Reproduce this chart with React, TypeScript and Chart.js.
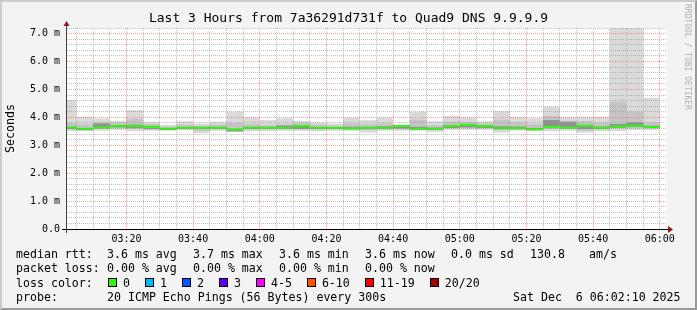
import React, { useEffect, useRef } from 'react';
import { Chart, registerables } from 'chart.js';

Chart.register(...registerables);

// ---- data ----
const binStart = ['03:00','03:05','03:10','03:15','03:20','03:25','03:30','03:35','03:40','03:45','03:50','03:55','04:00','04:05','04:10','04:15','04:20','04:25','04:30','04:35','04:40','04:45','04:50','04:55','05:00','05:05','05:10','05:15','05:20','05:25','05:30','05:35','05:40','05:45','05:50','05:55'];
const smokeMax = [4.62,4.02,3.96,3.87,4.26,3.83,3.73,3.86,3.78,3.84,4.20,4.00,3.90,3.97,3.87,3.82,3.78,3.98,3.90,3.99,3.73,4.20,3.86,4.05,4.00,3.86,4.22,4.01,3.97,4.38,4.01,4.01,4.02,7.20,7.20,4.70];
const smokeMin = [3.50,3.52,3.52,3.55,3.50,3.52,3.52,3.55,3.43,3.52,3.47,3.50,3.50,3.52,3.52,3.50,3.52,3.52,3.45,3.52,3.52,3.52,3.48,3.55,3.55,3.55,3.45,3.52,3.50,3.50,3.52,3.45,3.50,3.50,3.55,3.55];
const midLow = [3.56,3.54,3.58,3.60,3.58,3.56,3.55,3.57,3.52,3.56,3.50,3.56,3.56,3.57,3.57,3.56,3.56,3.56,3.54,3.56,3.57,3.55,3.54,3.60,3.62,3.60,3.54,3.56,3.54,3.58,3.58,3.52,3.56,3.60,3.62,3.60];
const midHigh = [3.80,3.75,3.82,3.80,3.95,3.76,3.66,3.74,3.70,3.74,3.80,3.76,3.72,3.76,3.80,3.74,3.70,3.78,3.75,3.78,3.72,3.92,3.72,3.84,3.84,3.78,3.92,3.82,3.76,4.05,3.88,3.86,3.80,4.56,4.20,3.82];
const innerLow = [3.58,3.54,3.66,3.64,3.62,3.58,3.56,3.59,3.58,3.59,3.50,3.59,3.59,3.60,3.58,3.59,3.59,3.58,3.58,3.59,3.60,3.57,3.56,3.62,3.64,3.62,3.58,3.58,3.56,3.66,3.66,3.58,3.59,3.63,3.66,3.62];
const innerHigh = [3.66,3.58,3.78,3.72,3.74,3.63,3.62,3.66,3.66,3.66,3.56,3.66,3.66,3.70,3.66,3.66,3.65,3.66,3.66,3.68,3.66,3.66,3.63,3.68,3.72,3.70,3.68,3.67,3.62,3.90,3.84,3.68,3.67,3.76,3.82,3.70];
const medianRtt = [3.63,3.59,3.63,3.69,3.69,3.66,3.59,3.62,3.62,3.62,3.56,3.62,3.62,3.62,3.69,3.62,3.62,3.60,3.62,3.62,3.69,3.59,3.59,3.69,3.73,3.69,3.61,3.61,3.57,3.66,3.62,3.70,3.62,3.67,3.70,3.65];

const xTickLabels = ['03:20','03:40','04:00','04:20','04:40','05:00','05:20','05:40','06:00'];
const yTickLabels = ['0.0','1.0 m','2.0 m','3.0 m','4.0 m','5.0 m','6.0 m','7.0 m'];

const titleText = 'Last 3 Hours from 7a36291d731f to Quad9 DNS 9.9.9.9';
const rttStats = ['3.6 ms avg','3.7 ms max','3.6 ms min','3.6 ms now','0.0 ms sd','130.8','am/s'];
const lossStats = ['0.00 % avg','0.00 % max','0.00 % min','0.00 % now'];
const lossLabels = ['0','1','2','3','4-5','6-10','11-19','20/20'];
const lossColors = ['#26ff00','#00b8ff','#0059ff','#5e00ff','#ff00ff','#ff5500','#ff0000','#a10000'];
const probeText = '20 ICMP Echo Pings (56 Bytes) every 300s';
const stampText = 'Sat Dec  6 06:02:10 2025';

// ---- helpers ----
const toMin = (t: string) => { const [h, m] = t.split(':').map(Number); return h * 60 + m; };
const BIN = 5;
const X_MAX = toMin('06:02') + 10 / 60;
const X_MIN = X_MAX - 180;
const Y_MAX = 7.2;
const MEDIAN_HALF = 0.036;
const MONO = '"DejaVu Sans Mono", monospace';

const centers = binStart.map((t) => toMin(t) + BIN / 2);
const floating = (lo: number[], hi: number[]) => centers.map((x, i) => ({ x, y: [lo[i], hi[i]] }));

const fmtTime = (v: number) => {
  const h = Math.floor(v / 60); const m = Math.round(v - h * 60);
  return `${String(h).padStart(2, '0')}:${String(m).padStart(2, '0')}`;
};

const plotDecor = {
  id: 'plotDecor',
  beforeDraw(chart: any) {
    const { ctx, chartArea: a } = chart;
    ctx.save();
    ctx.fillStyle = '#ffffff';
    ctx.fillRect(a.left, a.top, a.right - a.left, a.bottom - a.top);
    ctx.restore();
  },
  afterDraw(chart: any) {
    const { ctx, chartArea: a } = chart;
    ctx.save();
    ctx.lineWidth = 1;
    ctx.strokeStyle = '#000000';
    ctx.beginPath();
    ctx.moveTo(a.left - 5, a.bottom + 0.5);
    ctx.lineTo(a.right + 2, a.bottom + 0.5);
    ctx.stroke();
    ctx.strokeStyle = '#404040';
    ctx.beginPath();
    ctx.moveTo(a.left - 0.5, a.bottom + 4);
    ctx.lineTo(a.left - 0.5, a.top - 2);
    ctx.stroke();
    ctx.fillStyle = '#991111';
    ctx.beginPath();
    ctx.moveTo(a.right + 1, a.bottom - 3);
    ctx.lineTo(a.right + 6, a.bottom + 0.5);
    ctx.lineTo(a.right + 1, a.bottom + 4);
    ctx.closePath();
    ctx.fill();
    ctx.beginPath();
    ctx.moveTo(a.left - 3.5, a.top - 2);
    ctx.lineTo(a.left - 0.5, a.top - 7);
    ctx.lineTo(a.left + 2.5, a.top - 2);
    ctx.closePath();
    ctx.fill();
    ctx.restore();
  },
};

const MINOR = 'rgba(150,150,150,0.6)';
const MAJOR = 'rgba(255,90,90,0.6)';

export default function App() {
  const ref = useRef<HTMLCanvasElement>(null);

  useEffect(() => {
    const prev = document.body.style.margin;
    document.body.style.margin = '0';
    const common = { grouped: false, barPercentage: 1, categoryPercentage: 1, borderWidth: 0, inflateAmount: 0 };
    const chart = new Chart(ref.current as HTMLCanvasElement, {
      type: 'bar',
      data: {
        datasets: [
          { ...common, label: 'median rtt', data: centers.map((x, i) => ({ x, y: [medianRtt[i] - MEDIAN_HALF, medianRtt[i] + MEDIAN_HALF] })), backgroundColor: '#26ff00' },
          { ...common, label: 'smoke inner', data: floating(innerLow, innerHigh), backgroundColor: '#909090' },
          { ...common, label: 'smoke mid', data: floating(midLow, midHigh), backgroundColor: '#c4c4c4' },
          { ...common, label: 'smoke outer', data: floating(smokeMin, smokeMax), backgroundColor: '#dadada' },
        ] as any,
      },
      options: {
        animation: false,
        responsive: false,
        maintainAspectRatio: false,
        layout: { padding: { left: 0, right: 0, top: 0, bottom: 61 } },
        plugins: {
          legend: { display: false },
          tooltip: { enabled: false },
          title: {
            display: true,
            text: titleText,
            color: '#000',
            font: { family: MONO, size: 13, weight: 'normal', lineHeight: 1.2 },
            padding: { top: 11, bottom: 1.4 },
          },
        },
        scales: {
          x: {
            type: 'linear',
            min: X_MIN,
            max: X_MAX,
            offset: false,
            afterBuildTicks: (s: any) => {
              const t: any[] = [];
              for (let v = Math.ceil(X_MIN / BIN) * BIN; v <= X_MAX; v += BIN) t.push({ value: v });
              s.ticks = t;
            },
            afterFit: (s: any) => { s.height = 20; },
            grid: {
              offset: false,
              drawTicks: false,
              z: 1,
              color: (c: any) => (c.tick && c.tick.value % 20 === 0 ? MAJOR : MINOR),
            },
            border: { display: false, dash: [1, 1] },
            ticks: {
              autoSkip: false,
              maxRotation: 0,
              padding: 4,
              color: '#000',
              font: { family: MONO, size: 10 },
              callback: (v: any) => { const s = fmtTime(Number(v)); return xTickLabels.includes(s) ? s : ''; },
            },
          },
          y: {
            type: 'linear',
            min: 0,
            max: Y_MAX,
            afterBuildTicks: (s: any) => {
              const t: any[] = [];
              for (let i = 0; i <= Math.round(Y_MAX * 5); i++) t.push({ value: i / 5 });
              s.ticks = t;
            },
            afterFit: (s: any) => { s.width = 67; },
            grid: {
              drawTicks: false,
              z: 1,
              color: (c: any) => {
                const v = c.tick ? c.tick.value : 0;
                return Math.abs(v - Math.round(v)) < 1e-6 ? MAJOR : MINOR;
              },
            },
            border: { display: false, dash: [1, 1] },
            title: {
              display: true,
              text: 'Seconds',
              color: '#000',
              font: { family: MONO, size: 11.6, lineHeight: 1.2 },
              padding: { top: 4, bottom: 0 },
            },
            ticks: {
              autoSkip: false,
              padding: 7,
              color: '#000',
              font: { family: MONO, size: 10 },
              callback: (v: any) => {
                const n = Number(v);
                const i = Math.round(n);
                return Math.abs(n - i) < 1e-6 ? yTickLabels[i] : '';
              },
            },
          },
          yRight: {
            type: 'linear',
            position: 'right',
            min: 0,
            max: Y_MAX,
            afterFit: (s: any) => { s.width = 30; },
            grid: { display: false },
            border: { display: false },
            ticks: { display: false },
          },
        },
      } as any,
      plugins: [plotDecor],
    });
    return () => { chart.destroy(); document.body.style.margin = prev; };
  }, []);

  const rowStyle = (top: number): React.CSSProperties => ({
    position: 'absolute', top, height: 14, lineHeight: '14px', whiteSpace: 'pre', color: '#000',
  });
  const rttX = [107, 193, 279, 365, 451, 530, 589];
  const lossX = [107, 193, 279, 365];

  return (
    <div style={{ position: 'absolute', left: 0, top: 0, width: 697, height: 310, background: '#f3f3f3', overflow: 'hidden', fontFamily: MONO, fontSize: 11.6 }}>
      <canvas ref={ref} width={697} height={310} style={{ position: 'absolute', left: 0, top: 0, width: 697, height: 310 }} />
      <div style={{ position: 'absolute', left: 682, top: 4, writingMode: 'vertical-rl', fontSize: 8, color: '#b0b0b0', whiteSpace: 'pre', lineHeight: '10px' }}>RRDTOOL / TOBI OETIKER</div>

      <span style={{ ...rowStyle(247), left: 16 }}>median rtt:</span>
      {rttStats.map((s, i) => <span key={'r' + i} style={{ ...rowStyle(247), left: rttX[i] }}>{s}</span>)}

      <span style={{ ...rowStyle(261), left: 16 }}>packet loss:</span>
      {lossStats.map((s, i) => <span key={'l' + i} style={{ ...rowStyle(261), left: lossX[i] }}>{s}</span>)}

      <span style={{ ...rowStyle(275.5), left: 16 }}>loss color:</span>
      <div style={{ position: 'absolute', left: 108, top: 275.5, height: 14, display: 'flex', alignItems: 'center', whiteSpace: 'pre', lineHeight: '14px' }}>
        {lossLabels.map((l, i) => (
          <React.Fragment key={'c' + i}>
            <span style={{ display: 'inline-block', boxSizing: 'border-box', width: 9, height: 9, border: '1px solid #000', background: lossColors[i], marginRight: 6 }} />
            <span style={{ marginRight: 15 }}>{l}</span>
          </React.Fragment>
        ))}
      </div>

      <span style={{ ...rowStyle(289.5), left: 16 }}>probe:</span>
      <span style={{ ...rowStyle(289.5), left: 107 }}>{probeText}</span>
      <span style={{ ...rowStyle(289.5), left: 513 }}>{stampText}</span>

      <div style={{ position: 'absolute', left: 0, top: 0, width: 697, height: 310, boxSizing: 'border-box', borderTop: '2px solid #cbcbcb', borderLeft: '2px solid #cbcbcb', borderBottom: '2px solid #999999', borderRight: '2px solid #999999', pointerEvents: 'none' }} />
    </div>
  );
}
